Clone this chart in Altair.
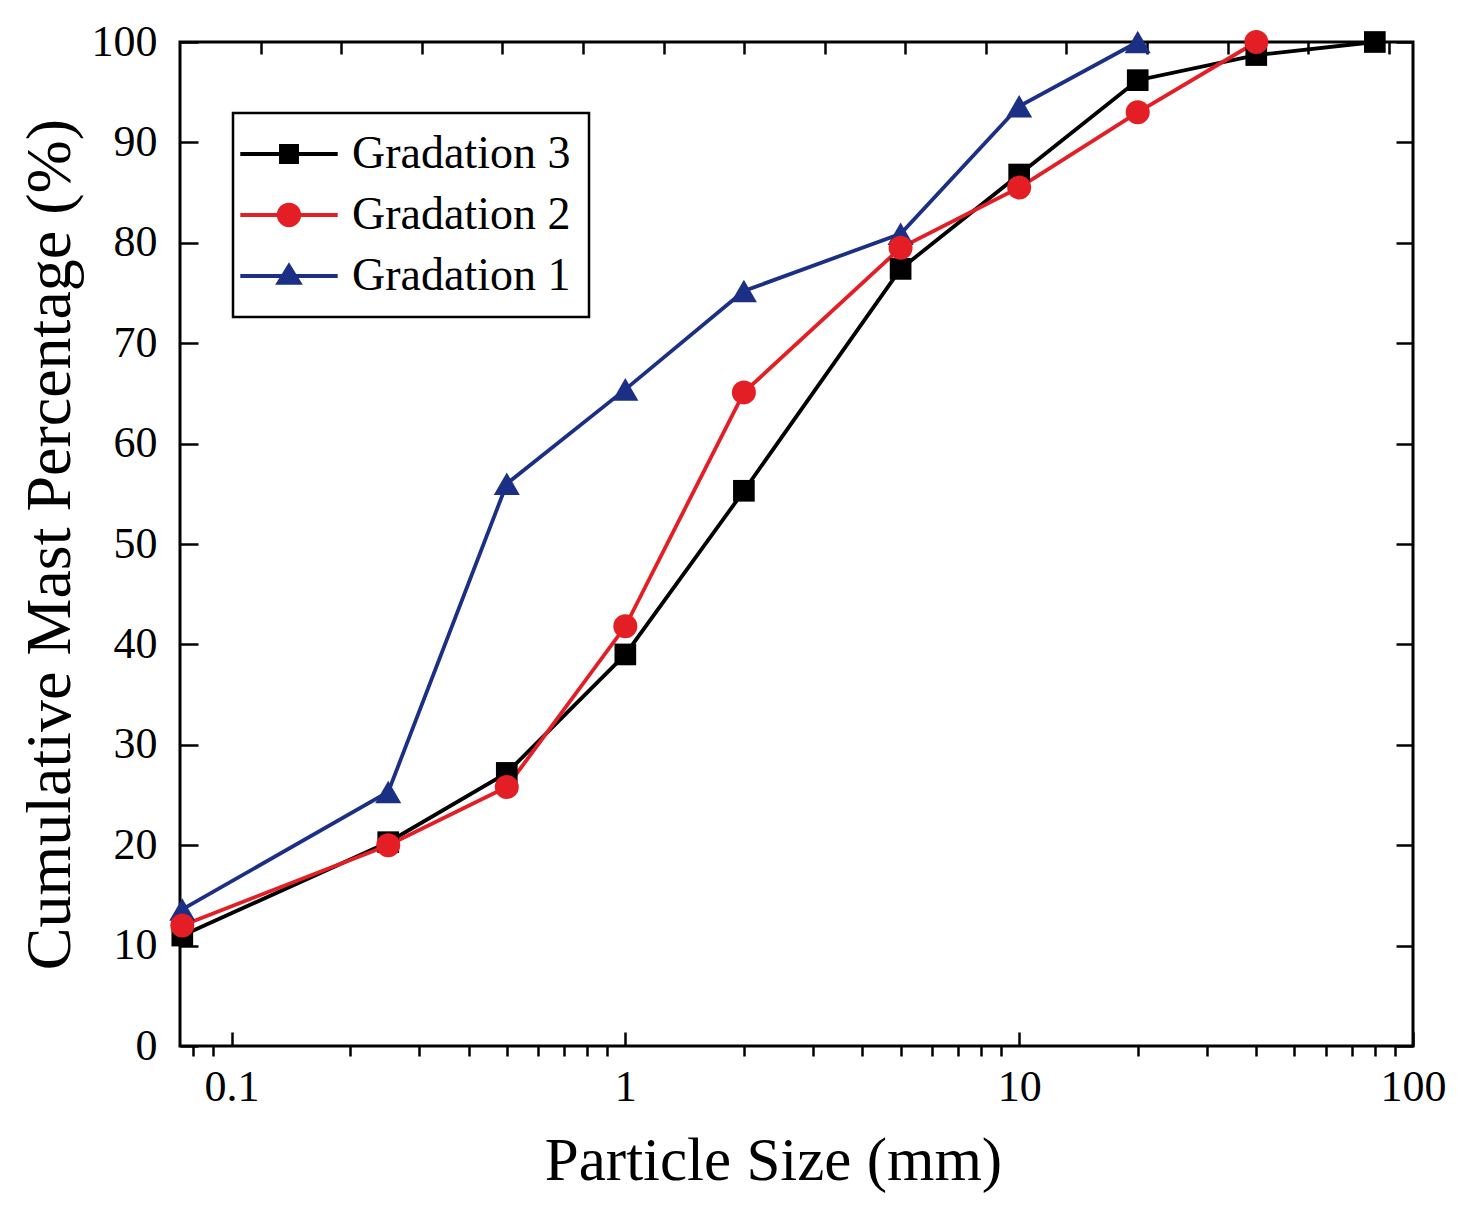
import altair as alt
import pandas as pd

# ---- data ----
series_names = ["Gradation 3", "Gradation 2", "Gradation 1"]
draw_order = ["Gradation 3", "Gradation 1", "Gradation 2"]
series_colors = ["#000000", "#e31e24", "#1b2f85"]
series_shapes = ["square", "circle", "triangle-up"]
marker_sizes = [470, 680, 800]

sizes_g3 = [0.075, 0.25, 0.5, 1, 2, 5, 10, 20, 40, 80]
pct_g3 = [11.0, 20.3, 27.2, 39.0, 55.3, 77.4, 86.8, 96.2, 98.7, 100.0]
sizes_g2 = [0.075, 0.25, 0.5, 1, 2, 5, 10, 20, 40]
pct_g2 = [12.0, 20.0, 25.8, 41.8, 65.1, 79.5, 85.5, 93.0, 100.0]
sizes_g1 = [0.075, 0.25, 0.5, 1, 2, 5, 10, 20]
pct_g1 = [13.6, 25.3, 56.0, 65.4, 75.2, 80.9, 93.6, 100.0]

x_major = [0.1, 1, 10, 100]
x_minor = [0.08, 0.09, 0.2, 0.3, 0.4, 0.5, 0.6, 0.7, 0.8, 0.9,
           2, 3, 4, 5, 6, 7, 8, 9, 20, 30, 40, 50, 60, 70, 80, 90]
y_ticks = [0, 10, 20, 30, 40, 50, 60, 70, 80, 90, 100]
top_ticks = list(range(1, 16))

# legend symbols: a line segment with the marker on it (style only)
LINE = "M-4.4,-0.17H4.4V0.17H-4.4Z "
legend_paths = [
    LINE + "M-0.9,-0.9H0.9V0.9H-0.9Z",
    LINE + "M-1.1,0A1.1,1.1 0 1,1 1.1,0A1.1,1.1 0 1,1 -1.1,0Z",
    LINE + "M-1.25,0.8L0,-1.25L1.25,0.8Z",
]

data_by_name = {
    "Gradation 3": (sizes_g3, pct_g3),
    "Gradation 2": (sizes_g2, pct_g2),
    "Gradation 1": (sizes_g1, pct_g1),
}
rows = []
for name in draw_order:
    xs_, ys_ = data_by_name[name]
    for a, b in zip(xs_, ys_):
        rows.append({"series": name, "size": a, "pct": b})
df = pd.DataFrame(rows)

W, H = 1233, 1004
FONT = "Liberation Serif"

xscale = alt.Scale(type="log", domain=[0.074, 100], nice=False)
yscale = alt.Scale(domain=[0, 100], nice=False, zero=False)
cscale = alt.Scale(domain=series_names, range=series_colors)

lines = alt.Chart(df).mark_line(strokeWidth=3.8).encode(
    x=alt.X("size:Q", scale=xscale,
            axis=alt.Axis(orient="bottom", values=x_major, format="~g", offset=-14, tickSize=14,
                          tickWidth=2.5, tickColor="black", domain=False, grid=False,
                          labelFont=FONT, labelFontSize=44, labelColor="black", labelPadding=19,
                          labelFlush=False, labelOverlap=False,
                          title="Particle Size (mm)", titleFont=FONT, titleFontSize=61,
                          titleFontWeight="normal", titleColor="black", titlePadding=22,
                          titleX=593)),
    y=alt.Y("pct:Q", scale=yscale,
            axis=alt.Axis(orient="left", values=y_ticks, offset=-18, tickSize=18, tickWidth=2.5,
                          tickColor="black", domain=False, grid=False,
                          labelFont=FONT, labelFontSize=44, labelColor="black", labelPadding=23,
                          labelOverlap=False,
                          title="Cumulative Mast Percentage (%)", titleFont=FONT, titleFontSize=64,
                          titleFontWeight="normal", titleColor="black", titlePadding=9)),
    color=alt.Color("series:N", scale=cscale, legend=None),
    detail="series:N",
)

points = alt.Chart(df).mark_point(filled=True, opacity=1, strokeWidth=0).encode(
    x=alt.X("size:Q", scale=xscale,
            axis=alt.Axis(orient="bottom", values=x_minor, labels=False, tickSize=10, tickWidth=2.5,
                          tickColor="black", domain=False, grid=False, title=None)),
    y=alt.Y("pct:Q", scale=yscale,
            axis=alt.Axis(orient="right", values=y_ticks, labels=False, offset=-17, tickSize=17,
                          tickWidth=2.5, tickColor="black", domain=False, grid=False, title=None)),
    fill=alt.Fill("series:N", scale=cscale, legend=None),
    shape=alt.Shape("series:N", scale=alt.Scale(domain=series_names, range=series_shapes), legend=None),
    size=alt.Size("series:N", scale=alt.Scale(domain=series_names, range=marker_sizes), legend=None),
)

leg_props = dict(orient="none", legendX=53, legendY=71, title=None,
                 symbolSize=490, symbolOffset=15, symbolStrokeWidth=0, symbolOpacity=1,
                 labelFont=FONT, labelFontSize=46, labelColor="black", labelLimit=500,
                 labelOffset=40, rowPadding=15, padding=18,
                 strokeColor="black", fillColor="white")

legend_layer = alt.Chart(df).mark_point(filled=True, opacity=0, strokeWidth=0).encode(
    x=alt.X("size:Q", scale=xscale, axis=None),
    y=alt.Y("pct:Q", scale=yscale, axis=None),
    fill=alt.Fill("series:N", scale=cscale, legend=alt.Legend(**leg_props)),
    shape=alt.Shape("series:N", scale=alt.Scale(domain=series_names, range=legend_paths),
                    legend=alt.Legend(**leg_props)),
)

inner = alt.layer(lines, points, legend_layer).resolve_scale(
    x="shared", y="shared", shape="independent", fill="independent"
).resolve_axis(x="independent", y="independent")

top = alt.Chart(pd.DataFrame({"t": top_ticks})).mark_point(opacity=0).encode(
    x=alt.X("t:Q", scale=alt.Scale(domain=[0, 15.3], nice=False, zero=False),
            axis=alt.Axis(orient="top", values=top_ticks, labels=False, offset=-12, tickSize=12,
                          tickWidth=2.5, tickColor="black", domain=False, grid=False, title=None)),
)

chart = alt.layer(inner, top).resolve_scale(x="independent").properties(
    width=W, height=H,
    autosize=alt.AutoSizeParams(type="none"),
    padding={"left": 172, "top": 34, "right": 40, "bottom": 170},
).configure_view(stroke="black", strokeWidth=3).configure_legend(strokeWidth=2.5)

chart.save("out.html", embed_options={"renderer": "svg", "actions": False})
